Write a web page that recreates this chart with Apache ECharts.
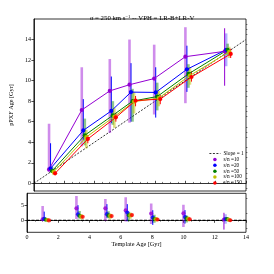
<!DOCTYPE html>
<html><head><meta charset="utf-8">
<script src="https://cdn.jsdelivr.net/npm/echarts@6/dist/echarts.min.js"></script>
<style>html,body{margin:0;padding:0;background:#fff}#c{width:274px;height:274px}</style>
</head><body><div id="c"></div>
<script>
// ---------- data ----------
const ages = [1.0, 3.16, 5.01, 6.31, 7.94, 10.0, 12.59];
const xTicks = [0, 2, 4, 6, 8, 10, 12, 14];
const yTicksMain = [0, 2, 4, 6, 8, 10, 12, 14];
const yTicksRes = [0, 5];
const snNames = ['s/n =10', 's/n =20', 's/n =50', 's/n =100', 's/n =150'];

const ageSN10  = [1.35, 7.14, 9.0, 9.6, 10.2, 12.33, 12.85];
const ageSN20  = [1.45, 5.15, 7.05, 8.88, 8.85, 11.1, 13.0];
const ageSN50  = [1.2, 4.68, 6.62, 8.0, 8.45, 10.65, 13.0];
const ageSN100 = [1.1, 4.5, 6.5, 7.95, 8.3, 10.5, 12.8];
const ageSN150 = [0.97, 4.32, 6.42, 8.05, 8.2, 10.35, 12.6];

// light (wide) error ranges [lo, hi]
const wideSN10  = [[1.1,5.8],[3.6,11.3],[4.9,12.1],[5.9,14.0],[6.7,13.5],[7.8,15.2],null];
const wideSN20  = [null,null,null,null,null,null,[11.4,14.6]];
const wideSN50  = [[1.0,1.6],[3.7,6.3],[5.7,8.0],[6.0,9.2],[7.1,9.8],[9.3,11.6],[12.5,13.6]];
const wideSN100 = [[0.8,1.4],[3.4,5.2],[5.4,7.3],[6.8,8.9],[7.5,9.0],[9.6,11.3],[12.2,13.3]];
const wideSN150 = [null,null,null,null,null,null,null];
// dark (thin) error ranges [lo, hi]
const thinSN10  = [null,null,null,null,null,null,[9.5,15.1]];
const thinSN20  = [[1.1,3.9],[4.2,8.2],[5.85,10.4],[6.0,11.7],[6.4,11.3],[8.9,13.4],null];
const thinSN50  = [null,null,null,null,null,null,null];
const thinSN100 = [null,null,null,null,null,null,null];
const thinSN150 = [[0.8,1.2],[3.9,4.7],[6.0,6.85],[7.5,8.5],[7.7,8.6],[9.9,10.9],[12.2,13.1]];

const slopeLine = [[0,0],[14,14]];
const zeroLine = [[0,0],[14,0]];

// ---------- styling ----------
const colors = ['#9400D3', '#0000FF', '#008000', '#BFBF00', '#FF0000'];
const wideColors = ['rgba(148,0,211,0.45)','rgba(0,0,255,0.3)','rgba(0,128,0,0.45)','rgba(191,191,0,0.5)','rgba(255,0,0,0.5)'];
const xShift = [0.0, 0.1, 0.2, 0.3, 0.4];
const FONT = 'Liberation Serif';

const values = [ageSN10, ageSN20, ageSN50, ageSN100, ageSN150];
const wides = [wideSN10, wideSN20, wideSN50, wideSN100, wideSN150];
const thins = [thinSN10, thinSN20, thinSN50, thinSN100, thinSN150];

function errSeries(name, ranges, k, resid, gi, color, width) {
  const data = [];
  ranges.forEach((r, j) => {
    if (!r) return;
    const off = resid ? ages[j] : 0;
    data.push([ages[j] + xShift[k], r[0] - off, r[1] - off]);
  });
  return {
    type: 'custom', name: name + (resid ? ' res' : '') + ' err' + width, xAxisIndex: gi, yAxisIndex: gi === 0 ? 0 : 2,
    clip: true, silent: true, z: 2,
    itemStyle: {color: colors[k]},
    encode: {x: 0, y: [1, 2]},
    data: data,
    renderItem: function (params, api) {
      const x = api.value(0);
      const p1 = api.coord([x, api.value(1)]);
      const p2 = api.coord([x, api.value(2)]);
      return {type: 'line', shape: {x1: p1[0], y1: p1[1], x2: p2[0], y2: p2[1]},
              style: {stroke: color, lineWidth: width}};
    }
  };
}

const series = [];
series.push({
  type: 'line', name: 'Slope = 1', data: slopeLine, xAxisIndex: 0, yAxisIndex: 0,
  symbol: 'none', z: 1, clip: true,
  lineStyle: {color: '#000', width: 0.8, type: [2, 1.5]}, itemStyle: {color: '#000'}
});
series.push({
  type: 'line', name: 'zero', data: zeroLine, xAxisIndex: 1, yAxisIndex: 2,
  symbol: 'none', z: 1,
  lineStyle: {color: '#000', width: 1.3, type: [3, 1.5]}
});
for (let k = 0; k < 5; k++) {
  series.push(errSeries(snNames[k], wides[k], k, false, 0, wideColors[k], 2.6));
  series.push(errSeries(snNames[k], thins[k], k, false, 0, colors[k], 1.0));
  series.push({
    type: 'line', name: snNames[k], xAxisIndex: 0, yAxisIndex: 0, z: 3,
    data: values[k].map((v, j) => [ages[j] + xShift[k], v]),
    symbol: 'circle', symbolSize: 4.2,
    lineStyle: {color: colors[k], width: 1},
    itemStyle: {color: colors[k]}
  });
  series.push(errSeries(snNames[k], wides[k], k, true, 1, wideColors[k], 2.6));
  series.push(errSeries(snNames[k], thins[k], k, true, 1, colors[k], 1.0));
  series.push({
    type: 'scatter', name: snNames[k], xAxisIndex: 1, yAxisIndex: 2, z: 3,
    data: values[k].map((v, j) => [ages[j] + xShift[k], v - ages[j]]),
    symbol: 'circle', symbolSize: 4.2,
    itemStyle: {color: colors[k]}
  });
}

function minorVals(lo, hi, step, majors) {
  const out = [];
  for (let v = lo; v <= hi + 1e-9; v += step) {
    const r = Math.round(v * 100) / 100;
    if (majors.indexOf(r) < 0) out.push(r);
  }
  return out;
}

const labelStyle = {fontFamily: FONT, fontSize: 6, color: '#000'};
const axisLineStyle = {lineStyle: {color: '#000', width: 0.8}};

const option = {
  animation: false,
  backgroundColor: '#fff',
  title: {
    text: 'σ = 250 km s{sup|−1} -- VPH = LR-B+LR-V',
    left: 137, top: 9, textAlign: 'center',
    textStyle: {fontFamily: FONT, fontSize: 6.8, fontWeight: 'normal', color: '#000',
      rich: {sup: {fontFamily: FONT, fontSize: 4.6, verticalAlign: 'top', padding: [0,0,3,0]}}}
  },
  legend: {
    data: [{name: 'Slope = 1', itemStyle: {opacity: 0}, lineStyle: {width: 0.8, type: [2, 1.5], opacity: 1}}].concat(snNames.map(n => ({name: n, icon: 'circle'}))),
    orient: 'vertical', left: 204, top: 146,
    itemWidth: 11, itemHeight: 3.5, itemGap: 0.9,
    textStyle: {fontFamily: FONT, fontSize: 5.3, color: '#000', padding: [0,0,0,-2]}
  },
  grid: [
    {left: 27, top: 19, width: 219, height: 172, show: true, borderColor: '#000', borderWidth: 0.8, backgroundColor: 'transparent'},
    {left: 27, top: 193.3, width: 219, height: 39, show: true, borderColor: '#000', borderWidth: 0.8, backgroundColor: 'transparent'}
  ],
  xAxis: [
    {type: 'value', gridIndex: 0, min: 0, max: 14, interval: 2,
     axisLine: axisLineStyle, axisLabel: {show: false},
     axisTick: {inside: true, length: 2.5, lineStyle: {color: '#000', width: 0.7}},
     minorTick: {show: true, splitNumber: 4, length: 1.4, lineStyle: {color: '#000', width: 0.5}},
     splitLine: {show: false}},
    {type: 'value', gridIndex: 1, min: 0, max: 14, interval: 2,
     name: 'Template Age [Gyr]', nameLocation: 'middle', nameGap: 9,
     nameTextStyle: {fontFamily: FONT, fontSize: 6.2, color: '#000'},
     axisLine: axisLineStyle,
     axisLabel: Object.assign({margin: 2.5, customValues: xTicks}, labelStyle),
     axisTick: {length: 2.5, lineStyle: {color: '#000', width: 0.7}},
     minorTick: {show: true, splitNumber: 4, length: 1.4, lineStyle: {color: '#000', width: 0.5}},
     splitLine: {show: false}}
  ],
  yAxis: [
    {type: 'value', gridIndex: 0, min: -0.75, max: 16,
     name: 'pPXF Age [Gyr]', nameLocation: 'middle', nameGap: 13,
     nameTextStyle: {fontFamily: FONT, fontSize: 6.2, color: '#000'},
     axisLine: axisLineStyle,
     axisLabel: Object.assign({margin: 3, customValues: yTicksMain}, labelStyle),
     axisTick: {length: 2.5, customValues: yTicksMain, lineStyle: {color: '#000', width: 0.7}},
     splitLine: {show: false}},
    {type: 'value', gridIndex: 0, min: -0.75, max: 16,
     axisLine: {show: false}, axisLabel: {show: false},
     axisTick: {length: 1.4, customValues: minorVals(-0.5, 15.5, 0.5, yTicksMain), lineStyle: {color: '#000', width: 0.5}},
     splitLine: {show: false}},
    {type: 'value', gridIndex: 1, min: -4, max: 9,
     axisLine: axisLineStyle,
     axisLabel: Object.assign({margin: 3, customValues: yTicksRes}, labelStyle),
     axisTick: {length: 2.5, customValues: yTicksRes, lineStyle: {color: '#000', width: 0.7}},
     splitLine: {show: false}},
    {type: 'value', gridIndex: 1, min: -4, max: 9,
     axisLine: {show: false}, axisLabel: {show: false},
     axisTick: {length: 1.4, customValues: [-2.5, 2.5, 7.5], lineStyle: {color: '#000', width: 0.5}},
     splitLine: {show: false}}
  ],
  series: series
};

const chart = echarts.init(document.getElementById('c'), null, {renderer: 'canvas'});
chart.setOption(option);
</script></body></html>
